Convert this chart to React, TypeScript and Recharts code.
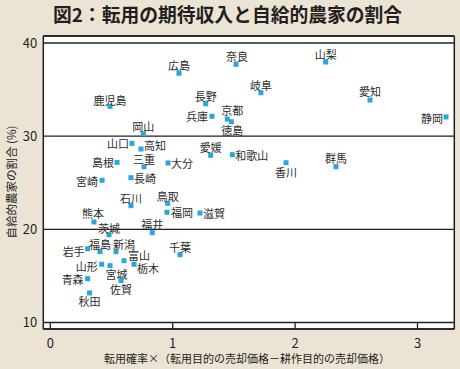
import React from 'react';
import { ScatterChart, Scatter, XAxis, YAxis, CartesianGrid, ReferenceLine } from 'recharts';

const prefectures = [
  '広島', '鹿児島', '長野', '兵庫', '岡山', '京都', '徳島', '奈良', '山梨', '岐阜', '愛知', '静岡',
  '山口', '高知', '愛媛', '島根', '三重', '大分', '宮崎', '長崎', '石川', '鳥取', '福岡', '滋賀',
  '熊本', '茨城', '福井', '和歌山', '香川', '群馬', '岩手', '福島', '新潟', '富山', '千葉', '山形',
  '宮城', '栃木', '青森', '佐賀', '秋田',
];
const xValues = [
  1.051, 0.488, 1.270, 1.321, 0.760, 1.446, 1.479, 1.517, 2.250, 1.721, 2.612, 3.233,
  0.667, 0.741, 1.310, 0.545, 0.766, 0.962, 0.423, 0.659, 0.659, 0.959, 0.953, 1.223,
  0.357, 0.480, 0.833, 1.487, 1.926, 2.334, 0.305, 0.406, 0.537, 0.602, 1.060, 0.420,
  0.488, 0.684, 0.305, 0.578, 0.321,
];
const yValues = [
  36.75, 33.2, 33.48, 32.13, 30.26, 31.84, 31.55, 37.71, 37.96, 34.66, 33.88, 32.06,
  29.23, 28.62, 27.95, 27.19, 26.72, 27.12, 25.26, 25.54, 22.54, 22.79, 21.83, 21.75,
  20.79, 19.42, 19.64, 28.01, 27.15, 26.72, 17.92, 17.6, 17.6, 16.63, 17.28, 16.25,
  16.1, 16.25, 14.7, 14.49, 13.17,
];
const xTicks = [0, 1, 2, 3];
const yTicks = [10, 20, 30, 40];
const title = '図2：転用の期待収入と自給的農家の割合';
const xTitle = '転用確率×（転用目的の売却価格－耕作目的の売却価格）';
const yTitle = '自給的農家の割合 (%)';

// label placement (style): [anchor, dx, dy]
const labelPlacement: Record<string, [string, number, number]> = {
  広島: ['middle', 0, -8], 鹿児島: ['middle', 0, -6.5], 長野: ['middle', 0, -8], 兵庫: ['end', -4, 0],
  岡山: ['middle', 0, -7.5], 京都: ['middle', 5, -9], 徳島: ['middle', 1, 8], 奈良: ['middle', 1, -8.5],
  山梨: ['middle', 0, -8], 岐阜: ['middle', 0, -8], 愛知: ['middle', 0, -9], 静岡: ['end', -3, 1],
  山口: ['end', -3, 0], 高知: ['start', 3, -4], 愛媛: ['middle', 0, -8], 島根: ['end', -3, 0],
  三重: ['middle', 0, -7.5], 大分: ['start', 3, 0], 宮崎: ['end', -4, 0.5], 長崎: ['start', 3, 0.5],
  石川: ['middle', 0, -7.5], 鳥取: ['middle', 0, -7], 福岡: ['start', 4, 0], 滋賀: ['start', 3, 0],
  熊本: ['middle', -1, -8.5], 茨城: ['middle', 0, -6.5], 福井: ['middle', 0, -8.5], 和歌山: ['start', 3, 0.5],
  香川: ['middle', 0, 9], 群馬: ['middle', 0, -9], 岩手: ['end', -3, 2], 福島: ['middle', 0, -7.5],
  新潟: ['middle', 8, -7.5], 富山: ['start', 4, -5.5], 千葉: ['middle', 0, -7.5], 山形: ['end', -4, 1.5],
  宮城: ['middle', 6.5, 8], 栃木: ['start', 3, 4], 青森: ['end', -4, 0.5], 佐賀: ['middle', 0, 8],
  秋田: ['middle', 0, 8.5],
};

const data = prefectures.map((name, i) => ({ name, x: xValues[i], y: yValues[i] }));

const FONT = '"Noto Sans CJK JP", "Noto Sans", sans-serif';
const BG = '#EBE4D4';
const INK = '#231f20';
const BLUE = '#27a6e0';
const X_DOMAIN: [number, number] = [-0.0572, 3.3007];
const Y_DOMAIN: [number, number] = [9.302, 40.75];

const renderPoint = (props: any) => {
  const { cx, cy, payload } = props;
  const p = labelPlacement[payload.name] || ['middle', 0, -8];
  return (
    <g>
      <rect x={cx - 2.5} y={cy - 2.5} width={5} height={5} fill={BLUE} />
      <text
        x={cx + p[1]}
        y={cy + p[2]}
        textAnchor={p[0] as any}
        dominantBaseline="central"
        fontSize={11}
        fill="#2b2b2b"
        style={{ fontFamily: FONT }}
      >
        {payload.name}
      </text>
    </g>
  );
};

export default function App() {
  return (
    <div style={{ position: 'absolute', left: 0, top: 0, width: 460, height: 369, background: BG, overflow: 'hidden', fontFamily: FONT }}>
      <ScatterChart width={460} height={369} margin={{ top: 36, right: 5.7, bottom: 39, left: 42.3 }}>
        <CartesianGrid vertical={false} stroke={INK} strokeWidth={1.3} fill="#ffffff" fillOpacity={1} />
        <XAxis
          type="number"
          dataKey="x"
          domain={X_DOMAIN}
          ticks={xTicks}
          allowDataOverflow
          height={1}
          axisLine={false}
          tickLine={false}
          tickSize={6}
          tickMargin={3.5}
          interval={0}
          tick={{ fontSize: 13, fill: INK, fontFamily: FONT }}
        />
        <YAxis
          type="number"
          dataKey="y"
          domain={Y_DOMAIN}
          ticks={yTicks}
          allowDataOverflow
          width={1}
          axisLine={false}
          tickLine={false}
          tickSize={4}
          tickMargin={2}
          interval={0}
          tick={{ fontSize: 13, fill: INK, fontFamily: FONT }}
        />
        <ReferenceLine x={X_DOMAIN[0]} stroke={INK} strokeWidth={1.5} ifOverflow="visible" />
        <ReferenceLine x={X_DOMAIN[1]} stroke={INK} strokeWidth={1.5} ifOverflow="visible" />
        <ReferenceLine y={Y_DOMAIN[0]} stroke={INK} strokeWidth={1.5} ifOverflow="visible" />
        <ReferenceLine y={Y_DOMAIN[1]} stroke={INK} strokeWidth={1.5} ifOverflow="visible" />
        {xTicks.map((t) => (
          <ReferenceLine
            key={t}
            segment={[{ x: t, y: Y_DOMAIN[0] }, { x: t, y: yTicks[0] }]}
            stroke={INK}
            strokeWidth={1.3}
            ifOverflow="visible"
          />
        ))}
        <Scatter data={data} shape={renderPoint} isAnimationActive={false} />
      </ScatterChart>
      <div style={{ position: 'absolute', left: 53, top: 4, fontSize: 18.8, lineHeight: '20px', fontWeight: 700, color: INK, whiteSpace: 'nowrap' }}>
        {title}
      </div>
      <div style={{ position: 'absolute', left: 10.5, top: 181.5, transform: 'translate(-50%, -50%) rotate(-90deg)', fontSize: 11.5, lineHeight: '14px', color: INK, whiteSpace: 'nowrap' }}>
        {yTitle}
      </div>
      <div style={{ position: 'absolute', left: 247, top: 358, transform: 'translate(-50%, -50%)', fontSize: 11, lineHeight: '14px', color: INK, whiteSpace: 'nowrap' }}>
        {xTitle}
      </div>
    </div>
  );
}
